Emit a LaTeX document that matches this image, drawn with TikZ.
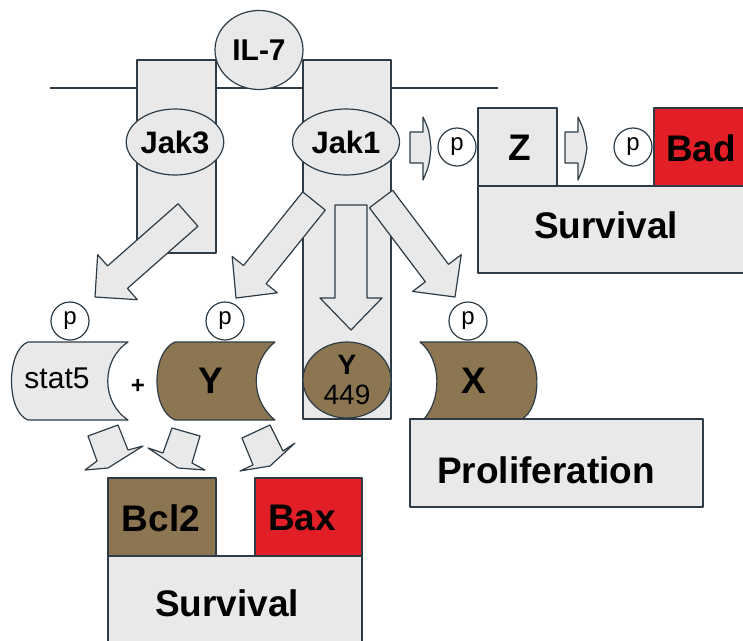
\documentclass[tikz,border=0pt]{standalone}
\usepackage{fontspec}
\setmainfont{Liberation Sans}
\usetikzlibrary{calc,shapes.geometric}
\definecolor{linec}{RGB}{45,60,70}
\definecolor{boxgray}{RGB}{233,233,233}
\definecolor{mybrown}{RGB}{140,118,82}
\definecolor{badred}{RGB}{226,30,38}
\tikzset{
  outline/.style={draw=linec,line width=1.2pt},
  box/.style={outline,fill=boxgray},
  brownbox/.style={outline,fill=mybrown},
  redbox/.style={outline,fill=badred},
  arrowbox/.style={outline,fill=boxgray},
  oval/.style={ellipse,outline,fill=boxgray,inner sep=0pt},
  pcirc/.style={circle,outline,fill=white,inner sep=0pt,minimum size=38pt,
    font=\fontsize{24}{24}\selectfont},
  bigtext/.style={inner sep=0pt,font=\fontsize{37}{40}\selectfont\bfseries},
  jaktext/.style={font=\fontsize{31}{33}\selectfont\bfseries}
}
% block arrow: tail, tip, shaft half width, head half width, head length
\newcommand{\fatarrow}[5]{%
  \coordinate (hb) at ($(#2)!#5!(#1)$);
  \draw[arrowbox] ($(#1)!#3!90:(#2)$) -- ($(hb)!#3!-90:(#1)$) -- ($(hb)!#4!-90:(#1)$)
    -- (#2) -- ($(hb)!#4!90:(#1)$) -- ($(hb)!#3!90:(#1)$) -- ($(#1)!#3!-90:(#2)$) -- cycle;
}
\begin{document}
\begin{tikzpicture}[x=1pt,y=-1pt,line join=round]
\useasboundingbox (0,0) rectangle (743,640);
% membrane and receptors
\draw[linec,line width=1.2pt] (50,88) -- (498,88);
\draw[box] (137,60) rectangle (216,253);
\draw[box] (303,60) rectangle (391,419);
\node[oval,minimum width=88pt,minimum height=79pt,font=\fontsize{30}{30}\selectfont\bfseries]
  (il7) at (259,50) {\raisebox{-6pt}{IL-7}};
\node[oval,minimum width=95pt,minimum height=66pt,jaktext] (jak3) at (175,142) {Jak3};
\node[oval,minimum width=107pt,minimum height=66pt,jaktext] (jak1) at (346,142) {Jak1};

% big arrows from the kinases
\coordinate (j3tail) at (188,215); \coordinate (j3tip) at (95,297);
\fatarrow{j3tail}{j3tip}{15pt}{30pt}{30pt}
\coordinate (j1ltail) at (314,201); \coordinate (j1ltip) at (236,298);
\fatarrow{j1ltail}{j1ltip}{14.5pt}{29pt}{30pt}
\coordinate (j1dtail) at (351,205); \coordinate (j1dtip) at (351,330);
\fatarrow{j1dtail}{j1dtip}{16pt}{31pt}{32pt}
\coordinate (j1rtail) at (381,199); \coordinate (j1rtip) at (455,297);
\fatarrow{j1rtail}{j1rtip}{14.5pt}{30.5pt}{30pt}

% Y449 site
\node[ellipse,brownbox,minimum width=88pt,minimum height=76pt,inner sep=0pt,align=center,
  font=\fontsize{28}{30}\selectfont] (y449) at (347,380) {\textbf{Y}\\449};

% stat5, Y and X
\draw[box] (28,342) -- (128,342) .. controls (101,360) and (101,402) .. (128,420)
  -- (28,420) .. controls (6,412) and (6,350) .. cycle;
\node[inner sep=0pt,font=\fontsize{30}{30}\selectfont] (stat5) at (57,378) {stat5};
\node[inner sep=0pt,font=\fontsize{24}{24}\selectfont\bfseries] (plus) at (138,386) {+};
\draw[brownbox] (175,342) -- (275,342) .. controls (250,362) and (250,400) .. (275,420)
  -- (175,420) .. controls (151,410) and (151,352) .. cycle;
\node[bigtext] (ytext) at (211,381) {Y};
\draw[brownbox] (420,342) -- (517,342) .. controls (543,352) and (543,410) .. (520,420)
  -- (423,420) .. controls (442,400) and (442,360) .. cycle;
\node[bigtext] (xtext) at (474,381) {X};

\node[pcirc] (p1) at (70,321) {p};
\node[pcirc] (p2) at (225,321) {p};
\node[pcirc] (p3) at (468,321) {p};

% small arrows to Bcl2 / Bax
\draw[arrowbox] (88,436) -- (118,425) -- (128,450) -- (143,446) -- (108,468) -- (85,470) -- (97,461) -- cycle;
\draw[arrowbox] (172,428) -- (200,436) -- (192,463) -- (205,470) -- (178,468) -- (148,448) -- (163,453) -- cycle;
\draw[arrowbox] (242,438) -- (270,425) -- (283,451) -- (295,443) -- (270,466) -- (240,471) -- (253,465) -- cycle;

% bottom survival
\draw[box] (108,556) rectangle (362,650);
\draw[brownbox] (108,478) rectangle (216,556);
\draw[redbox] (255,478) rectangle (362,556);
\node[bigtext] (bcl2) at (161,518) {Bcl2};
\node[bigtext] (bax) at (302,518) {Bax};
\node[bigtext] (surv1) at (227,603) {Survival};

% proliferation
\draw[box] (410,419) rectangle (703,507);
\node[bigtext] (prolif) at (546,470) {Proliferation};

% top right survival
\draw[box] (478,186) rectangle (760,273);
\draw[box] (478,108) rectangle (557,186);
\draw[redbox] (654,108) rectangle (760,186);
\node[bigtext] (ztext) at (520,148) {Z};
\node[bigtext] (bad) at (701,148) {Bad};
\node[bigtext] (surv2) at (606,225) {Survival};
\draw[arrowbox] (410,132) -- (423,132) -- (423,117) .. controls (429,130) .. (431,148)
  .. controls (429,166) .. (423,180) -- (423,163) -- (410,163) -- cycle;
\draw[arrowbox] (565,132) -- (578,132) -- (578,117) .. controls (584,130) .. (587,148)
  .. controls (584,166) .. (578,180) -- (578,163) -- (565,163) -- cycle;
\node[pcirc] (p4) at (457,147) {p};
\node[pcirc] (p5) at (633,147) {p};
\end{tikzpicture}
\end{document}
